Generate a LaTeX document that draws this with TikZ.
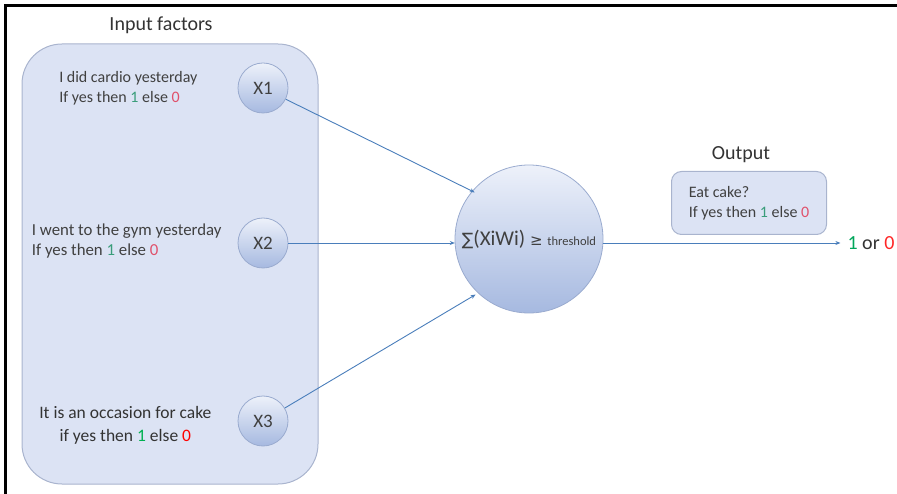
\documentclass[tikz,border=0pt]{standalone}
\usepackage{fontspec}
\setmainfont{Carlito}
\newfontfamily\symfont{DejaVu Sans}
\usetikzlibrary{positioning,arrows.meta}

\definecolor{txtgray}{HTML}{404040}
\definecolor{boxfill}{HTML}{DCE3F4}
\definecolor{boxline}{HTML}{A9B4CE}
\definecolor{ballhi}{HTML}{EDF1FA}
\definecolor{balllo}{HTML}{A6B9E0}
\definecolor{ballline}{HTML}{9AABCF}
\definecolor{linkblue}{HTML}{4A7EBB}
\definecolor{onegreen}{HTML}{3A9D7A}
\definecolor{zerored}{HTML}{E0506A}
\definecolor{onebright}{HTML}{00B050}
\definecolor{zerobright}{HTML}{FF0000}

\tikzset{
  factorbox/.style={rounded corners=40pt, fill=boxfill, draw=boxline, line width=1pt},
  xin/.style={circle, minimum size=50pt, inner sep=0pt, top color=ballhi, bottom color=balllo,
    draw=ballline, line width=0.8pt, text=txtgray, font=\fontsize{19}{22}\selectfont},
  sumball/.style={circle, minimum size=148pt, inner sep=0pt, top color=ballhi, bottom color=balllo,
    draw=ballline, line width=0.8pt, text=txtgray},
  factortxt/.style={align=left, text=txtgray, font=\fontsize{16}{20}\selectfont, inner sep=2pt},
  headtxt/.style={text=txtgray!80!black, font=\fontsize{20}{24}\selectfont},
  link/.style={draw=linkblue, line width=0.9pt, -{Stealth[length=5pt,width=4pt]}},
}

\newcommand{\yesno}[2]{If yes then \textcolor{#1}{1} else \textcolor{#2}{0}}

\begin{document}
\begin{tikzpicture}[x=1pt, y=-1pt]
  \useasboundingbox (0,0) rectangle (897,494);
  % frame
  \draw[line width=3pt] (5,494) -- (5,6) -- (897,6);

  % inputs
  \node[factorbox, minimum width=296pt, minimum height=440pt] (factors) at (170,264) {};
  \node[headtxt] (intitle) at (161,25) {Input factors};
  \node[xin] (x1) at (263,88) {X1};
  \node[xin] (x2) at (263,243) {X2};
  \node[xin] (x3) at (263,421) {X3};
  \node[factortxt, left=38pt of x1] (t1) {I did cardio yesterday\\ \yesno{onegreen}{zerored}};
  \node[factortxt, font=\fontsize{16.8}{20}\selectfont, left=14pt of x2, yshift=2pt] (t2)
    {I went to the gym yesterday\\ \yesno{onegreen}{zerored}};
  \node[factortxt, align=center, font=\fontsize{17.5}{23}\selectfont, text=black!80,
    left=24pt of x3, yshift=-4pt] (t3)
    {It is an occasion for cake\\ if yes then \textcolor{onebright}{1} else \textcolor{zerobright}{0}};

  % neuron
  \node[sumball, yshift=4pt] (sumtxt) at (529,243)
    {\fontsize{21}{24}\selectfont{\symfont\fontsize{17}{20}\selectfont∑}(XiWi) {\symfont\fontsize{15}{18}\selectfont≥} {\fontsize{12.5}{13}\selectfont threshold}};
  \node[circle, minimum size=148pt, inner sep=0pt] (sum) at (529,243) {};

  % output
  \node[headtxt] (outtitle) at (741,155) {Output};
  \node[rounded corners=10pt, fill=boxfill, draw=boxline, line width=1pt, minimum width=155pt,
    minimum height=63pt, factortxt] (outbox) at (749,203) {Eat cake?\\ \yesno{onegreen}{zerored}};
  \node[text=txtgray!80!black, font=\fontsize{20}{24}\selectfont, inner sep=1pt] (res) at (871,243)
    {\textcolor{onebright!80!teal}{1} or \textcolor{zerobright!85!white}{0}};

  \draw[link] (x1) -- (sum.137);
  \draw[link] (x2) -- (sum);
  \draw[link] (x3) -- (sum.-136);
  \draw[link, shorten >=6pt] (sum) -- (res);
\end{tikzpicture}
\end{document}
